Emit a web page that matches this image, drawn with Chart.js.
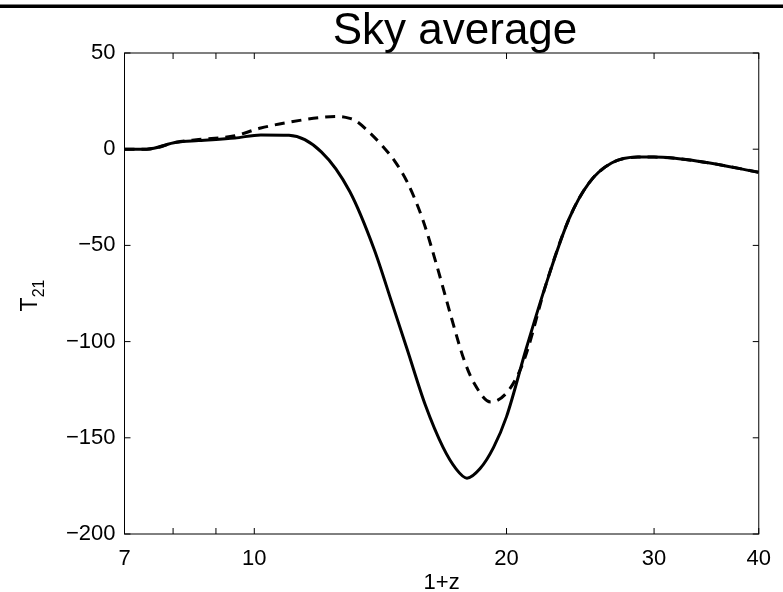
<!DOCTYPE html>
<html>
<head>
<meta charset="utf-8">
<title>Sky average</title>
<script src="https://cdn.jsdelivr.net/npm/chart.js@4.4.1/dist/chart.umd.min.js"></script>
<style>
    body { margin: 0; background: #fff; }
    canvas { display: block; }
</style>
</head>
<body>
<canvas id="skyChart" width="783" height="592"></canvas>
<script>
// Data (x is 1+z, y is T21)
const solidX = [7.0, 7.44, 8.07, 8.58, 9.48, 10.18, 11.0, 12.03, 13.0, 13.9, 14.6, 15.22, 16.0, 16.8, 17.4, 17.94, 18.6, 19.3, 20.0, 21.1, 22.3, 23.76, 25.08, 26.69, 28.7, 30.0, 34.3, 40.0];
const solidY = [0, 0, 3.6, 4.5, 5.8, 7.4, 7.2, -1.5, -22, -52, -80, -104, -133, -155, -166, -171, -166, -155, -139, -104, -70, -36, -17.6, -7.2, -4.1, -4.1, -6.6, -12];

const dashX = [7.0, 7.44, 8.07, 8.58, 9.48, 10.18, 11.0, 12.0, 12.6, 13.0, 13.22, 13.7, 14.2, 14.73, 15.22, 15.9, 16.5, 17.2, 17.8, 18.29, 19.15, 20.0, 20.76, 21.2, 22.3, 23.76, 25.08, 26.69, 28.7, 30.0, 34.3, 40.0];
const dashY = [0, 0, 3.6, 5, 7, 11, 14, 16.5, 17, 16, 14.7, 9, 2, -6.6, -17, -37, -60, -88, -109.6, -121.5, -131.4, -126.7, -114.8, -104, -70, -36, -17.6, -7.2, -4.1, -4.1, -6.6, -12];

const xTicks = [7, 8, 9, 10, 20, 30, 40];
const xTickLabels = ['7', '', '', '10', '20', '30', '40'];
const yTicks = [-200, -150, -100, -50, 0, 50];

const FONT = '"Liberation Sans", Arial, Helvetica, sans-serif';

document.addEventListener('DOMContentLoaded', () => {
    const ctx = document.getElementById('skyChart').getContext('2d');

    // box, inward ticks on all four sides, titles
    const boxPlugin = {
        id: 'boxPlugin',
        afterDraw(chart) {
            const c = chart.ctx;
            const a = chart.chartArea;
            const xs = chart.scales.x;
            const ys = chart.scales.y;
            const tl = 6;
            c.save();
            c.strokeStyle = '#000';
            c.lineWidth = 1;
            c.strokeRect(a.left, a.top, a.right - a.left, a.bottom - a.top);
            c.beginPath();
            xTicks.forEach(v => {
                const px = xs.getPixelForValue(v);
                c.moveTo(px, a.bottom); c.lineTo(px, a.bottom - tl);
                c.moveTo(px, a.top); c.lineTo(px, a.top + tl);
            });
            yTicks.forEach(v => {
                const py = ys.getPixelForValue(v);
                c.moveTo(a.left, py); c.lineTo(a.left + tl, py);
                c.moveTo(a.right, py); c.lineTo(a.right - tl, py);
            });
            c.stroke();

            // thick bar along the top
            c.fillStyle = '#000';
            c.fillRect(0, 4.5, chart.width, 3.5);

            c.textAlign = 'center';
            c.textBaseline = 'alphabetic';
            c.font = '44px ' + FONT;
            c.fillText('Sky average', 455, 44);

            c.font = '22px ' + FONT;
            c.fillText('1+z', (a.left + a.right) / 2, 589);

            // y label T with subscript 21
            c.translate(37, (a.top + a.bottom) / 2 + 2);
            c.rotate(-Math.PI / 2);
            c.textAlign = 'left';
            c.font = '23px ' + FONT;
            const tw = c.measureText('T').width;
            c.font = '16px ' + FONT;
            const sw = c.measureText('21').width;
            const start = -(tw + sw) / 2;
            c.font = '23px ' + FONT;
            c.fillText('T', start, 0);
            c.font = '16px ' + FONT;
            c.fillText('21', start + tw, 7);
            c.restore();
        }
    };

    new Chart(ctx, {
        type: 'scatter',
        data: {
            datasets: [{
                label: 'solid',
                data: solidX.map((x, i) => ({ x: x, y: solidY[i] })),
                showLine: true,
                borderColor: '#000',
                borderWidth: 3,
                pointRadius: 0,
                cubicInterpolationMode: 'monotone'
            }, {
                label: 'dashed',
                data: dashX.map((x, i) => ({ x: x, y: dashY[i] })),
                showLine: true,
                borderColor: '#000',
                borderWidth: 3,
                borderDash: [10, 7],
                pointRadius: 0,
                cubicInterpolationMode: 'monotone'
            }]
        },
        options: {
            responsive: false,
            animation: false,
            devicePixelRatio: 1,
            layout: { padding: { left: 0, top: 53, right: 13, bottom: 0 } },
            plugins: {
                legend: { display: false },
                title: { display: false },
                tooltip: { enabled: false }
            },
            scales: {
                x: {
                    type: 'logarithmic',
                    min: 7,
                    max: 40,
                    grid: { display: false, drawTicks: false },
                    border: { display: false },
                    afterBuildTicks: scale => {
                        scale.ticks = xTicks.map(v => ({ value: v }));
                    },
                    afterFit: scale => { scale.height = 58; },
                    ticks: {
                        autoSkip: false,
                        maxRotation: 0,
                        padding: 12,
                        color: '#000',
                        font: { family: FONT, size: 22 },
                        callback: (value, index) => xTickLabels[index]
                    }
                },
                y: {
                    min: -200,
                    max: 50,
                    grid: { display: false, drawTicks: false },
                    border: { display: false },
                    afterBuildTicks: scale => {
                        scale.ticks = yTicks.map(v => ({ value: v }));
                    },
                    afterFit: scale => { scale.width = 124.5; },
                    ticks: {
                        padding: 9,
                        color: '#000',
                        font: { family: FONT, size: 22 },
                        callback: value => value < 0 ? '\u2212' + Math.abs(value) : String(value)
                    }
                }
            }
        },
        plugins: [boxPlugin]
    });
});
</script>
</body>
</html>
